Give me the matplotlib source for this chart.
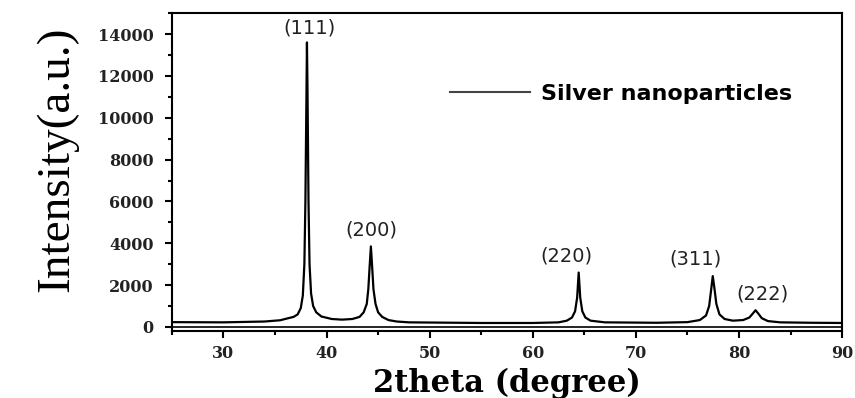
import matplotlib
matplotlib.use('Agg')
import matplotlib.pyplot as plt
from matplotlib.ticker import MultipleLocator

# XRD pattern of the silver nanoparticles (2theta in degrees, intensity in a.u.)
two_theta = [25.0, 30.0, 34.0, 35.5, 36.3, 36.8, 37.2, 37.5, 37.7, 37.85, 37.95,
             38.05, 38.1, 38.15, 38.25, 38.35, 38.5, 38.7, 39.0, 39.5, 40.5, 41.5,
             42.5, 43.2, 43.6, 43.9, 44.05, 44.18, 44.3, 44.42, 44.55, 44.75, 45.0,
             45.4, 46.0, 46.8, 48.0, 55.0, 60.0, 62.5, 63.3, 63.8, 64.1, 64.3, 64.45,
             64.6, 64.8, 65.1, 65.6, 67.0, 72.0, 75.0, 76.2, 76.8, 77.1, 77.3, 77.45,
             77.6, 77.8, 78.1, 78.6, 79.4, 80.4, 81.0, 81.35, 81.6, 81.85, 82.2, 82.8,
             84.0, 87.0, 90.0]
intensity = [230, 220, 260, 320, 420, 480, 600, 900, 1500, 3000, 6000,
             11000, 13600, 11500, 6000, 3000, 1600, 1000, 700, 500, 380, 350,
             380, 480, 700, 1100, 1800, 2900, 3850, 2900, 1800, 1100, 700,
             480, 330, 260, 220, 190, 190, 220, 300, 450, 750, 1400, 2600,
             1400, 750, 450, 300, 220, 200, 230, 330, 550, 1000, 1800, 2430,
             1900, 1100, 600, 380, 300, 330, 450, 650, 800, 650, 420, 280,
             220, 200, 190]

# Miller indices of the reflections
hkl = ['(111)', '(200)', '(220)', '(311)', '(222)']
hkl_x = [38.1, 44.3, 64.45, 77.5, 81.65]
hkl_y = [13600, 3850, 2600, 2430, 800]

fig = plt.figure(figsize=(8.55, 3.98), dpi=100)
ax = fig.add_axes([0.201, 0.168, 0.784, 0.799])

ax.plot(two_theta, intensity, color='black', lw=1.6, label='Silver nanoparticles')
ax.axhline(0, color='black', lw=1.2)

offsets = [250, 350, 350, 350, 300]
label_dx = [0.2, 0.0, -1.2, -1.7, 0.6]
for lab, x, y, dy, dx in zip(hkl, hkl_x, hkl_y, offsets, label_dx):
    ax.text(x + dx, y + dy, lab, ha='center', va='bottom', fontsize=14,
            family='DejaVu Sans', color='#222222')

ax.set_xlim(25, 90)
ax.set_ylim(-200, 15000)
ax.xaxis.set_major_locator(MultipleLocator(10))
ax.xaxis.set_minor_locator(MultipleLocator(5))
ax.yaxis.set_major_locator(MultipleLocator(2000))
ax.yaxis.set_minor_locator(MultipleLocator(1000))
ax.set_xticks([30, 40, 50, 60, 70, 80, 90])

ax.tick_params(which='both', direction='out', width=1.5, top=False, right=False)
ax.tick_params(which='major', length=5, pad=5)
ax.tick_params(which='minor', length=3)
ax.tick_params(axis='y', which='major', pad=8)
for lab in ax.get_xticklabels() + ax.get_yticklabels():
    lab.set_family('DejaVu Serif')
    lab.set_weight('bold')
    lab.set_fontsize(11.5)
    lab.set_color('#222222')
for sp in ax.spines.values():
    sp.set_linewidth(1.5)

ax.set_xlabel('2theta (degree)', family='DejaVu Serif', weight='bold',
              fontsize=22, labelpad=4)
ax.set_ylabel('Intensity(a.u.)', family='Liberation Serif', fontsize=34)
ax.yaxis.set_label_coords(-0.14, 0.54)

leg = ax.legend(loc='upper left', bbox_to_anchor=(0.385, 0.84), frameon=False,
                handlelength=3.6, handletextpad=0.5,
                prop={'family': 'DejaVu Sans', 'weight': 'bold', 'size': 16})
leg.get_lines()[0].set_color('#444444')
leg.get_lines()[0].set_linewidth(1.5)

plt.savefig('out.png', dpi=100)
